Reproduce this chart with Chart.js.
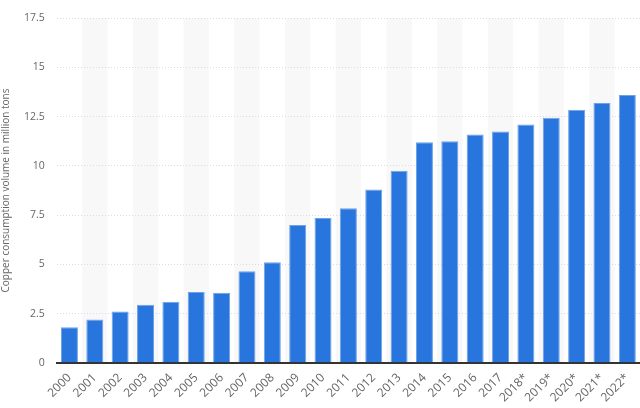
<!DOCTYPE html>
<html>
<head>
<meta charset="utf-8">
<script src="https://cdn.jsdelivr.net/npm/chart.js@4"></script>
<style>
  html, body { margin: 0; padding: 0; background: #fff; }
  #wrap { width: 640px; height: 408px; }
</style>
</head>
<body>
<div id="wrap"><canvas id="chart"></canvas></div>
<script>
// Years (asterisk = forecast)
const years = ['2000', '2001', '2002', '2003', '2004', '2005', '2006', '2007', '2008', '2009', '2010', '2011',
    '2012', '2013', '2014', '2015', '2016', '2017', '2018*', '2019*', '2020*', '2021*', '2022*'];

// Copper consumption volume in million tons
const consumption = [1.8, 2.2, 2.6, 2.95, 3.1, 3.6, 3.55, 4.65, 5.1, 7.0, 7.35, 7.85,
    8.8, 9.75, 11.2, 11.25, 11.6, 11.75, 12.1, 12.45, 12.85, 13.2, 13.6];

const yMax = 17.5;
const yStep = 2.5;

// Light grey band behind every second category, drawn under the gridlines
const bandPlugin = {
    id: 'bands',
    beforeDraw(chart) {
        const { ctx, chartArea, scales: { x } } = chart;
        const w = x.width / years.length;
        ctx.save();
        ctx.fillStyle = '#f8f8f8';
        years.forEach((_, i) => {
            if (i % 2 === 1) {
                const cx = x.getPixelForValue(i);
                ctx.fillRect(cx - w / 2, chartArea.top, w, chartArea.bottom - chartArea.top);
            }
        });
        ctx.restore();
    }
};

Chart.defaults.font.family = '"Open Sans", sans-serif';
Chart.defaults.color = '#666';

new Chart(document.getElementById('chart'), {
    type: 'bar',
    data: {
        labels: years,
        datasets: [{
            label: 'Copper consumption',
            data: consumption,
            backgroundColor: '#2876dd',
            borderColor: '#6ea2e8',
            borderWidth: { top: 1, left: 1, right: 1, bottom: 0 },
            barPercentage: 0.67,
            categoryPercentage: 1
        }]
    },
    options: {
        responsive: true,
        maintainAspectRatio: false,
        animation: false,
        layout: { padding: { top: 8, right: 0, left: 0, bottom: 3 } },
        plugins: {
            legend: { display: false },
            tooltip: { enabled: false }
        },
        scales: {
            x: {
                grid: { display: false },
                border: { color: '#333', width: 2 },
                ticks: {
                    minRotation: 45,
                    maxRotation: 45,
                    font: { size: 12 },
                    color: '#666',
                    padding: 0
                }
            },
            y: {
                min: 0,
                max: yMax,
                grid: { color: '#dcdcdc', drawTicks: false },
                border: { display: false, dash: [1, 2] },
                ticks: {
                    stepSize: yStep,
                    font: { size: 10.5 },
                    color: '#666',
                    padding: 12
                },
                title: {
                    display: true,
                    text: 'Copper consumption volume in million tons',
                    font: { size: 10 },
                    color: '#666',
                    padding: 0
                }
            }
        }
    },
    plugins: [bandPlugin]
});
</script>
</body>
</html>
